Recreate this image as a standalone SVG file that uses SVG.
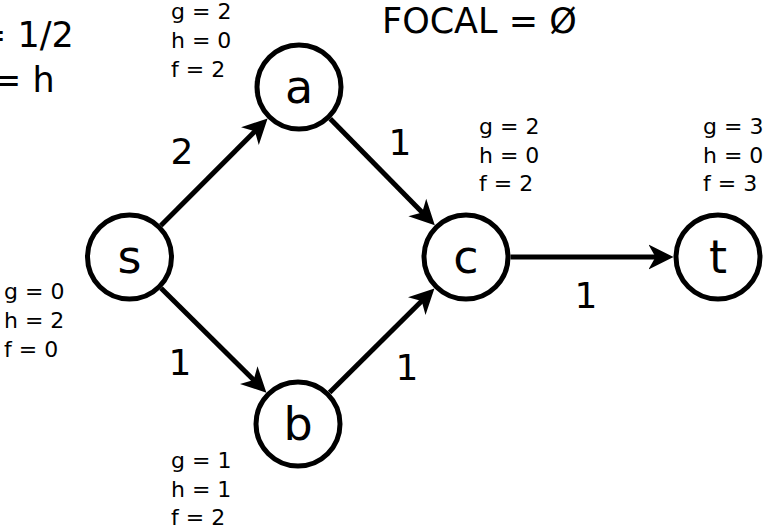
<svg xmlns="http://www.w3.org/2000/svg" width="769" height="528" viewBox="0 0 769 528">
  <style>
    text { font-family: "DejaVu Sans", sans-serif; fill: #000; }
    .node circle { fill: #fff; stroke: #000; stroke-width: 5; }
    .lbl { font-size: 46px; text-anchor: middle; }
    .info { font-size: 22px; }
    .big { font-size: 35px; }
    .w { font-size: 36px; text-anchor: middle; }
    .edge { stroke: #000; stroke-width: 5; fill: none; marker-end: url(#arr); }
  </style>
  <defs>
    <marker id="arr" viewBox="0 0 25 26" markerWidth="25" markerHeight="26" refX="11" refY="13" orient="auto" markerUnits="userSpaceOnUse">
      <path d="M25,13 L0,0.5 L7,13 L0,25.5 Z" fill="#000"/>
    </marker>
  </defs>
  <rect width="769" height="528" fill="#fff"/>

  <text class="big" x="-23" y="47">= 1/2</text>
  <text class="big" x="-8" y="92">= h</text>
  <text class="big" x="382" y="33">FOCAL = Ø</text>

  <g id="connectors">
    <line class="edge" x1="160.9" y1="225.5" x2="257.7" y2="128.4"/>
    <line class="edge" x1="161.1" y1="288.3" x2="256.5" y2="382.8"/>
    <line class="edge" x1="330.2" y1="118.7" x2="425" y2="215.3"/>
    <line class="edge" x1="329.6" y1="392.6" x2="424.5" y2="298.3"/>
    <line class="edge" x1="510.5" y1="257" x2="659.5" y2="257"/>
    <text class="w" x="182" y="164">2</text>
    <text class="w" x="400" y="155">1</text>
    <text class="w" x="180" y="375">1</text>
    <text class="w" x="407" y="380">1</text>
    <text class="w" x="586" y="308">1</text>
  </g>

  <g id="node-s" class="node">
    <circle cx="129.5" cy="257" r="42"/>
    <text class="lbl" x="129.5" y="273">s</text>
    <text class="info" x="4" y="299">g = 0</text>
    <text class="info" x="4" y="328">h = 2</text>
    <text class="info" x="4" y="357">f = 0</text>
  </g>
  <g id="node-a" class="node">
    <circle cx="299" cy="87" r="42"/>
    <text class="lbl" x="299" y="103">a</text>
    <text class="info" x="171" y="19">g = 2</text>
    <text class="info" x="171" y="48">h = 0</text>
    <text class="info" x="171" y="77">f = 2</text>
  </g>
  <g id="node-b" class="node">
    <circle cx="298" cy="424" r="42"/>
    <text class="lbl" x="298" y="440">b</text>
    <text class="info" x="171" y="468">g = 1</text>
    <text class="info" x="171" y="497">h = 1</text>
    <text class="info" x="171" y="525">f = 2</text>
  </g>
  <g id="node-c" class="node">
    <circle cx="466" cy="257" r="42"/>
    <text class="lbl" x="466" y="273">c</text>
    <text class="info" x="479" y="134">g = 2</text>
    <text class="info" x="479" y="163">h = 0</text>
    <text class="info" x="479" y="191">f = 2</text>
  </g>
  <g id="node-t" class="node">
    <circle cx="718" cy="257" r="42"/>
    <text class="lbl" x="718" y="273">t</text>
    <text class="info" x="703" y="134">g = 3</text>
    <text class="info" x="703" y="163">h = 0</text>
    <text class="info" x="703" y="191">f = 3</text>
  </g>
</svg>
